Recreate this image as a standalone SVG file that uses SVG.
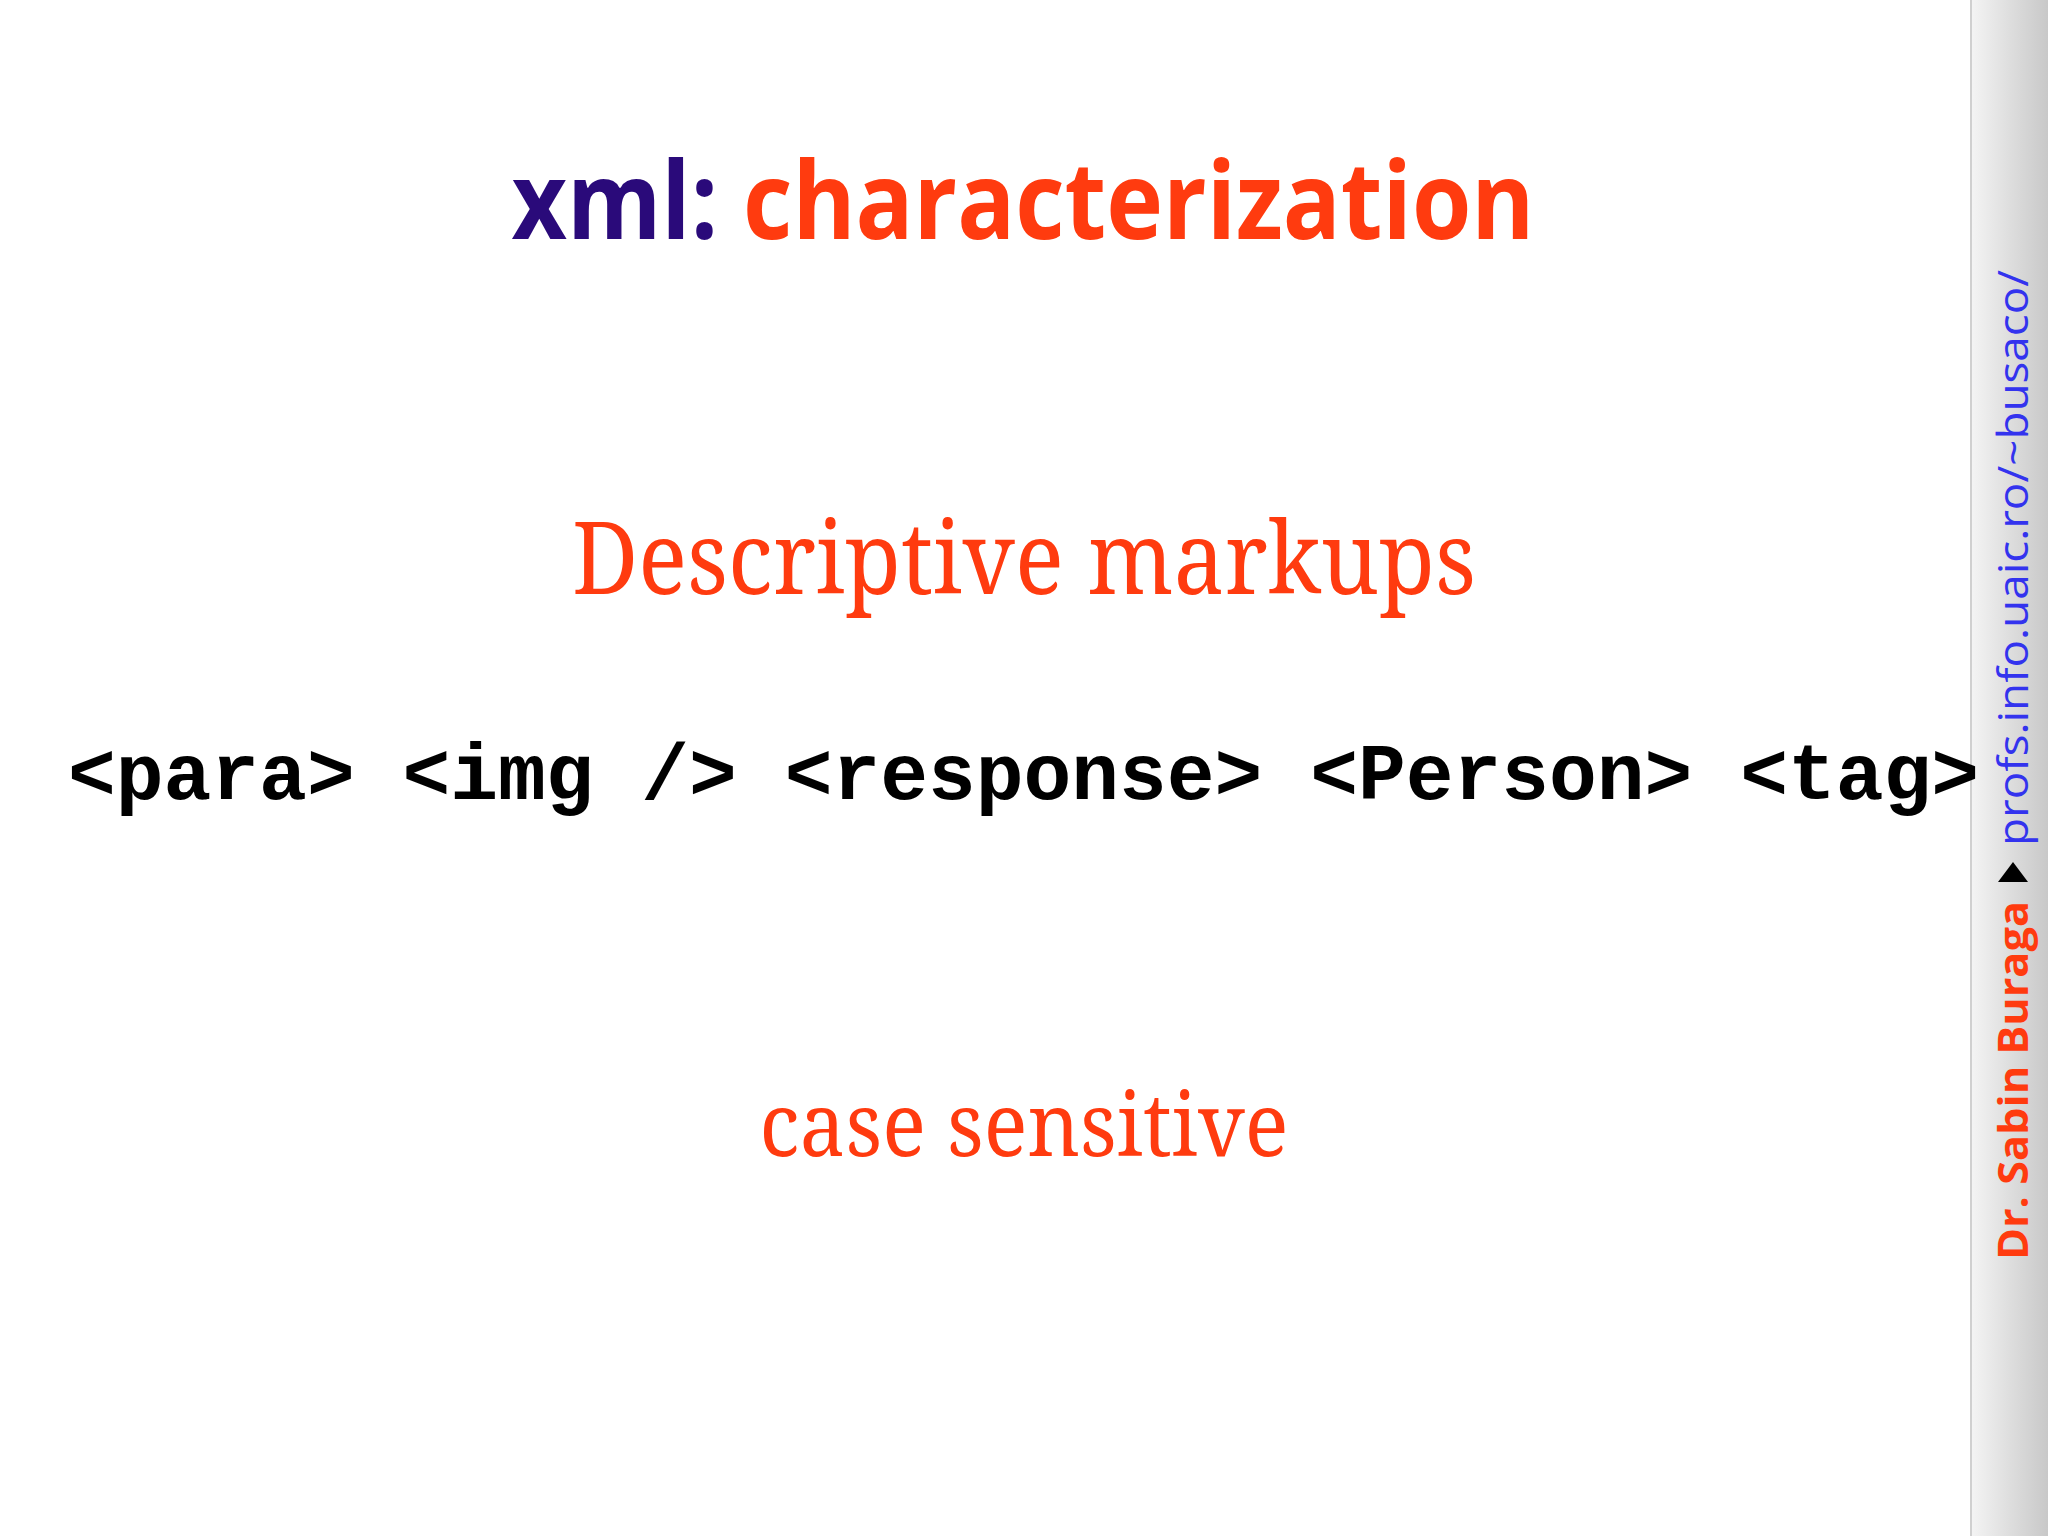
<svg xmlns="http://www.w3.org/2000/svg" width="2048" height="1536" viewBox="0 0 2048 1536">
<defs>
<linearGradient id="sb" x1="0" x2="1" y1="0" y2="0">
<stop offset="0" stop-color="#f4f4f4"/><stop offset="1" stop-color="#c8c8c8"/>
</linearGradient>
<style>
.t{font-family:"Open Sans","DejaVu Sans",sans-serif;font-weight:bold;font-size:108px}
.s{font-family:"Noto Serif","DejaVu Serif","Liberation Serif",serif;fill:#ff3b0f}
.c{font-family:"Liberation Mono","Courier New",monospace;font-weight:bold;font-size:80px;fill:#000}
</style>
</defs>
<rect width="2048" height="1536" fill="#fff"/>
<g id="sidebar">
<rect x="1971" y="0" width="77" height="1536" fill="url(#sb)"/>
<line x1="1971" y1="0" x2="1971" y2="1536" stroke="#d0d0d0" stroke-width="2"/>
<text transform="translate(2028,1260) rotate(-90)" font-family="Open Sans,sans-serif" font-weight="bold" font-size="42" fill="#ff3b0f" textLength="359" lengthAdjust="spacingAndGlyphs">Dr. Sabin Buraga</text>
<polygon points="1998,882 2028,882 2013,862" fill="#000"/>
<text transform="translate(2028,846) rotate(-90)" font-family="Open Sans,sans-serif" font-size="42" fill="#3333ee" textLength="576" lengthAdjust="spacingAndGlyphs">profs.info.uaic.ro/~busaco/</text>
</g>
<g id="title"><text class="t" x="1023" y="239" text-anchor="middle" textLength="1023" lengthAdjust="spacingAndGlyphs"><tspan fill="#2a0a7a">xml: </tspan><tspan fill="#ff3b0f">characterization</tspan></text></g>
<g id="desc"><text class="s" x="1024" y="594" font-size="100" text-anchor="middle" textLength="904" lengthAdjust="spacingAndGlyphs">Descriptive markups</text></g>
<g id="code"><text class="c" x="68" y="799" textLength="1911" lengthAdjust="spacingAndGlyphs">&lt;para&gt; &lt;img /&gt; &lt;response&gt; &lt;Person&gt; &lt;tag&gt;</text></g>
<g id="case"><text class="s" x="1024" y="1156" font-size="88" text-anchor="middle" textLength="529" lengthAdjust="spacingAndGlyphs">case sensitive</text></g>
</svg>
